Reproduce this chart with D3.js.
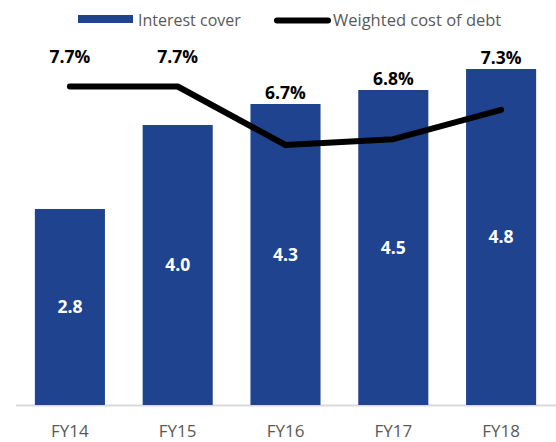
<!DOCTYPE html>
<html>
<head>
<meta charset="utf-8">
<script src="https://cdn.jsdelivr.net/npm/d3@7"></script>
<style>
  html, body { margin: 0; padding: 0; background: #ffffff; }
</style>
</head>
<body>
<div id="chart"></div>
<script>
// Chart data
const categories = ["FY14", "FY15", "FY16", "FY17", "FY18"];
const interestCover = [2.8, 4.0, 4.3, 4.5, 4.8];
const costOfDebt = [7.7, 7.7, 6.7, 6.8, 7.3];
const seriesNames = ["Interest cover", "Weighted cost of debt"];

function makeChart(containerSelector) {
    // Block 1: Style configuration
    const fillStyle = {
        barColor: "#1f438f",
        lineColor: "#000000",
        axisColor: "#d9d9d9",
        legendTextColor: "#595959",
        labelColor: "#000000",
        barLabelColor: "#ffffff",
        fontFamily: "'Open Sans', 'Liberation Sans', Arial, sans-serif"
    };

    const width = 556;
    const height = 442;
    const baselineY = 405;

    d3.select(containerSelector).html("");

    const svgRoot = d3.select(containerSelector)
        .append("svg")
        .attr("width", width)
        .attr("height", height)
        .attr("xmlns", "http://www.w3.org/2000/svg");

    // Block 2: Data
    const chartData = categories.map((c, i) => ({
        category: c,
        cover: interestCover[i],
        cost: costOfDebt[i]
    }));

    // Block 3: Scales
    const xScale = d3.scaleBand()
        .domain(categories)
        .range([16, 555])
        .paddingInner(0.35)
        .paddingOuter(0.175);

    const yBar = d3.scaleLinear()
        .domain([0, 5])
        .range([baselineY, 55]);

    const yLine = d3.scaleLinear()
        .domain([6.7, 7.7])
        .range([145, 86.5]);

    const cx = d => xScale(d.category) + xScale.bandwidth() / 2;

    // Block 4: Axis (baseline only, no ticks)
    const xAxisGroup = svgRoot.append("g")
        .attr("class", "axis x-axis")
        .attr("transform", `translate(0, ${baselineY})`)
        .call(d3.axisBottom(xScale).tickSize(0).tickPadding(20));

    xAxisGroup.select(".domain")
        .attr("d", `M16,0.5H556`)
        .style("stroke", fillStyle.axisColor)
        .style("stroke-width", 2);

    xAxisGroup.selectAll("text")
        .style("font-family", fillStyle.fontFamily)
        .style("font-size", "17px")
        .style("fill", fillStyle.legendTextColor);

    // Block 5: Bars
    svgRoot.selectAll(".bar")
        .data(chartData)
        .enter()
        .append("rect")
        .attr("class", "mark bar")
        .attr("x", d => xScale(d.category))
        .attr("y", d => yBar(d.cover))
        .attr("width", xScale.bandwidth())
        .attr("height", d => baselineY - yBar(d.cover))
        .attr("fill", fillStyle.barColor);

    // Values inside bars
    svgRoot.selectAll(".bar-label")
        .data(chartData)
        .enter()
        .append("text")
        .attr("class", "label bar-label")
        .attr("x", cx)
        .attr("y", d => (yBar(d.cover) + baselineY) / 2)
        .attr("dy", "0.36em")
        .attr("text-anchor", "middle")
        .style("font-family", fillStyle.fontFamily)
        .style("font-size", "17.5px")
        .style("font-weight", "bold")
        .style("fill", fillStyle.barLabelColor)
        .text(d => d3.format(".1f")(d.cover));

    // Block 6: Line
    const lineGen = d3.line()
        .x(cx)
        .y(d => yLine(d.cost));

    svgRoot.append("path")
        .datum(chartData)
        .attr("class", "mark line")
        .attr("d", lineGen)
        .attr("fill", "none")
        .attr("stroke", fillStyle.lineColor)
        .attr("stroke-width", 6)
        .attr("stroke-linecap", "round")
        .attr("stroke-linejoin", "round");

    // Percent labels: above the bar, or above the line when the line sits higher
    svgRoot.selectAll(".pct-label")
        .data(chartData)
        .enter()
        .append("text")
        .attr("class", "label pct-label")
        .attr("x", cx)
        .attr("y", d => Math.min(yBar(d.cover) - 11, yLine(d.cost) - 30))
        .attr("dy", "0.36em")
        .attr("text-anchor", "middle")
        .style("font-family", fillStyle.fontFamily)
        .style("font-size", "17.5px")
        .style("font-weight", "bold")
        .style("fill", fillStyle.labelColor)
        .text(d => d3.format(".1f")(d.cost) + "%");

    // Block 7: Legend
    const legend = svgRoot.append("g").attr("class", "legend");

    legend.append("rect")
        .attr("x", 78)
        .attr("y", 15)
        .attr("width", 55)
        .attr("height", 8)
        .attr("fill", fillStyle.barColor);

    legend.append("text")
        .attr("x", 138)
        .attr("y", 26)
        .style("font-family", fillStyle.fontFamily)
        .style("font-size", "16px")
        .style("fill", fillStyle.legendTextColor)
        .text(seriesNames[0]);

    legend.append("line")
        .attr("x1", 277)
        .attr("x2", 328)
        .attr("y1", 20.5)
        .attr("y2", 20.5)
        .attr("stroke", fillStyle.lineColor)
        .attr("stroke-width", 6)
        .attr("stroke-linecap", "round");

    legend.append("text")
        .attr("x", 333)
        .attr("y", 26)
        .style("font-family", fillStyle.fontFamily)
        .style("font-size", "16.5px")
        .style("fill", fillStyle.legendTextColor)
        .text(seriesNames[1]);

    return svgRoot.node();
}

makeChart("#chart");
</script>
</body>
</html>
